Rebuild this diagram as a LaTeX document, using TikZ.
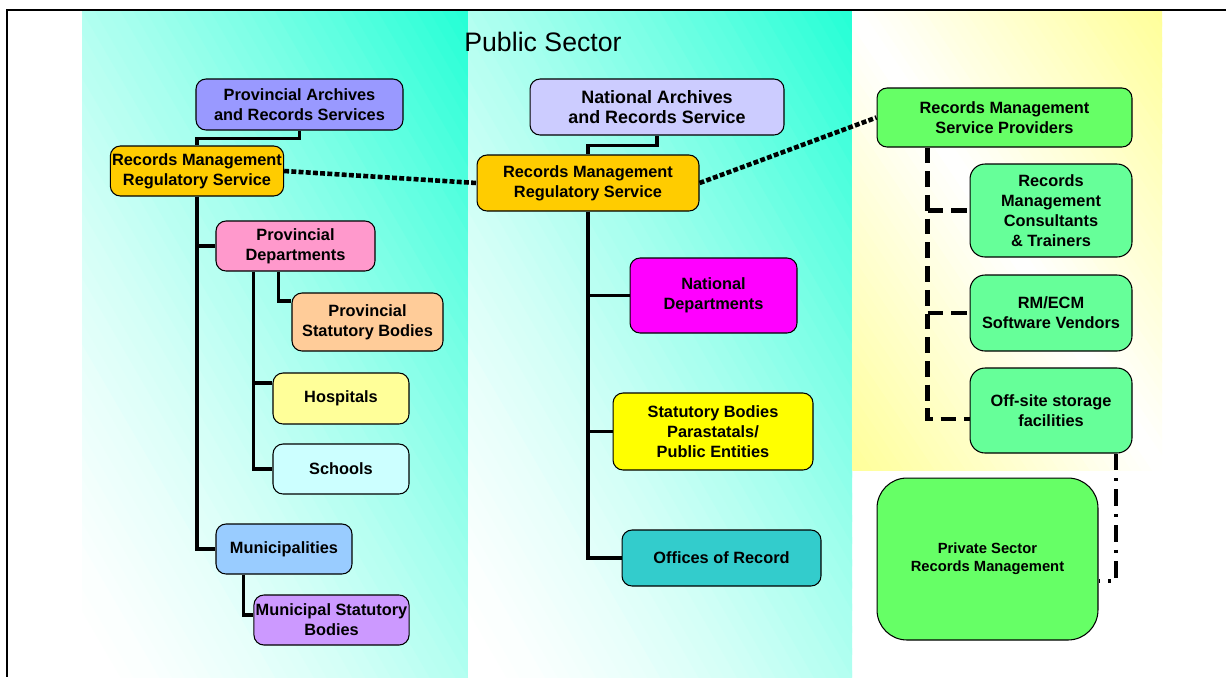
\documentclass[tikz,border=0pt]{standalone}
\usepackage{fontspec}
\setmainfont{Liberation Sans}

\definecolor{panelcyan}{HTML}{22FFD5}
\definecolor{panelyellow}{HTML}{FFFF99}
\definecolor{parsblue}{HTML}{9999FF}
\definecolor{narsblue}{HTML}{CCCCFF}
\definecolor{rmrsgold}{HTML}{FFCC00}
\definecolor{provpink}{HTML}{FF99CC}
\definecolor{psbpeach}{HTML}{FFCC99}
\definecolor{hospyellow}{HTML}{FFFF99}
\definecolor{schoolcyan}{HTML}{CCFFFF}
\definecolor{municblue}{HTML}{99CCFF}
\definecolor{msbpurple}{HTML}{CC99FF}
\definecolor{natmagenta}{HTML}{FF00FF}
\definecolor{statyellow}{HTML}{FFFF00}
\definecolor{officeteal}{HTML}{33CCCC}
\definecolor{provgreen}{HTML}{66FF66}
\definecolor{servgreen}{HTML}{66FF99}

\begin{document}
\begin{tikzpicture}
[x=0.02cm,y=-0.02cm,
  box/.style = {draw,line width=0.6pt,rounded corners=2mm,align=center,inner sep=1pt,
        font=\bfseries\fontsize{9.3}{11.3}\selectfont},
  treeline/.style = {line width=2.2pt},
  dotline/.style = {line width=2.6pt,dash pattern=on 2.8pt off 1.3pt},
  dashline/.style = {line width=2.4pt,dash pattern=on 9pt off 4.5pt},
  dashdotline/.style = {line width=2.3pt,dash pattern=on 9.6pt off 4.5pt on 1.8pt off 4.5pt}]

\useasboundingbox (0,0) rectangle (1226,677);
% background panels, diagonal bands from lower left to upper right
\foreach \px/\pw in {82/386,468/384}{
  \begin{scope}[shift={(\px,677)},xscale=\pw,yscale=-666]
    \clip (0,0) rectangle (1,1);
    \foreach \i in {0,...,59}{
      \pgfmathsetmacro\ta{2*\i/60}
      \pgfmathsetmacro\tb{2*(\i+1.3)/60}
      \pgfmathtruncatemacro\pc{100*((\i+0.5)/60)^1.5}
      \fill[panelcyan!\pc!white] ({\ta+1},-1) -- (-1,{\ta+1}) -- (-1,{\tb+1}) -- ({\tb+1},-1) -- cycle;
    }
  \end{scope}
}
\begin{scope}[shift={(852,470)},xscale=310,yscale=-459]
  \clip (0,0) rectangle (1,1);
  \foreach \i in {0,...,59}{
    \pgfmathsetmacro\ta{2*\i/60}
    \pgfmathsetmacro\tb{2*(\i+1.3)/60}
    \pgfmathtruncatemacro\pc{100*abs(2*(\i+0.5)/60-1)}
    \fill[panelyellow!\pc!white] ({\ta+1},-1) -- (-1,{\ta+1}) -- (-1,{\tb+1}) -- ({\tb+1},-1) -- cycle;
  }
\end{scope}
\draw[line width=1.2pt] (1226,10) -- (7,10) -- (7,677);

\node[font=\fontsize{15.2}{18}\selectfont] (title) at (543,42) {Public Sector};

% provincial
\node[box,fill=parsblue,minimum width=4.14cm,minimum height=1.02cm] (pars) at (299.5,104.5) {Provincial Archives\\and Records Services};
\node[box,fill=rmrsgold,minimum width=3.44cm,minimum height=1.0cm] (rmrsL) at (197,171) {Records Management\\Regulatory Service};
\node[box,fill=provpink,minimum width=3.18cm,minimum height=1.0cm] (provdep) at (295.5,246) {Provincial\\Departments};
\node[box,fill=psbpeach,minimum width=3.02cm,minimum height=1.16cm] (psb) at (367.5,322) {Provincial\\Statutory Bodies};
\node[box,fill=hospyellow,minimum width=2.72cm,minimum height=1.02cm] (hosp) at (341,398.5) {Hospitals};
\node[box,fill=schoolcyan,minimum width=2.72cm,minimum height=1.0cm] (schools) at (341,469) {Schools};
\node[box,fill=municblue,minimum width=2.72cm,minimum height=1.0cm] (munic) at (284,549) {Municipalities};
\node[box,fill=msbpurple,minimum width=3.1cm,minimum height=1.0cm] (msb) at (331.5,620) {Municipal Statutory\\Bodies};

% national
\node[box,fill=narsblue,minimum width=5.08cm,minimum height=1.12cm,
      font=\bfseries\fontsize{10.2}{11.3}\selectfont] (nars) at (657,107) {National Archives\\and Records Service};
\node[box,fill=rmrsgold,minimum width=4.44cm,minimum height=1.12cm] (rmrsM) at (588,183) {Records Management\\Regulatory Service};
\node[box,fill=natmagenta,minimum width=3.34cm,minimum height=1.5cm] (natdep) at (713.5,295.5) {National\\Departments};
\node[box,fill=statyellow,minimum width=4.0cm,minimum height=1.54cm] (statbod) at (713,431.5) {Statutory Bodies\\Parastatals/\\Public Entities};
\node[box,fill=officeteal,minimum width=3.98cm,minimum height=1.12cm] (offices) at (721.5,558) {Offices of Record};

% private
\node[box,fill=provgreen,minimum width=5.1cm,minimum height=1.18cm] (rmsp) at (1004.5,117.5) {Records Management\\Service Providers};
\node[box,fill=servgreen,rounded corners=3mm,minimum width=3.24cm,minimum height=1.86cm] (cons) at (1051,210.5) {Records\\Management\\Consultants\\\& Trainers};
\node[box,fill=servgreen,rounded corners=3mm,minimum width=3.24cm,minimum height=1.52cm] (rmecm) at (1051,313) {RM/ECM\\Software Vendors};
\node[box,fill=servgreen,rounded corners=3mm,minimum width=3.24cm,minimum height=1.7cm] (offsite) at (1051,410.5) {Off-site storage\\facilities};
\node[box,fill=provgreen,rounded corners=6mm,minimum width=4.42cm,minimum height=3.24cm,
      font=\bfseries\fontsize{8.4}{10.2}\selectfont] (private) at (987.5,559) {Private Sector\\Records Management};

%
\draw[treeline] (pars.south) -- ++(0,8) -| (rmrsL.north);
\draw[treeline] (rmrsL.south) |- (provdep.west);
\draw[treeline] (rmrsL.south) |- (munic.west);
\draw[treeline] ([xshift=1.26cm]provdep.south west) |- ([yshift=0.42cm]psb.west);
\draw[treeline] ([xshift=0.76cm]provdep.south west) |- (schools.west);
\draw[treeline] ([xshift=0.76cm]provdep.south west) |- ([yshift=0.31cm]hosp.west);
\draw[treeline] ([xshift=0.56cm]munic.south west) |- ([yshift=0.1cm]msb.west);
%
\draw[treeline] (nars.south) -- ++(0,10) -| (rmrsM.north);
\draw[treeline] (rmrsM.south) |- (natdep.west);
\draw[treeline] (rmrsM.south) |- (statbod.west);
\draw[treeline] (rmrsM.south) |- (offices.west);
%
\draw[dotline] (rmrsL.east) -- (rmrsM.west);
\draw[dotline] (rmrsM.east) -- (rmsp.west);
%
\coordinate (sptrunk) at ([xshift=1.02cm]rmsp.south west);
\draw[dashline] (sptrunk) |- ([yshift=-0.17cm]offsite.west);
\draw[dashline] (sptrunk |- cons.west) -- (cons.west);
\draw[dashline] (sptrunk |- rmecm.west) -- (rmecm.west);
\draw[dashdotline] ([xshift=-0.34cm]offsite.south east) |- ([yshift=-0.44cm]private.east);
\end{tikzpicture}
\end{document}
